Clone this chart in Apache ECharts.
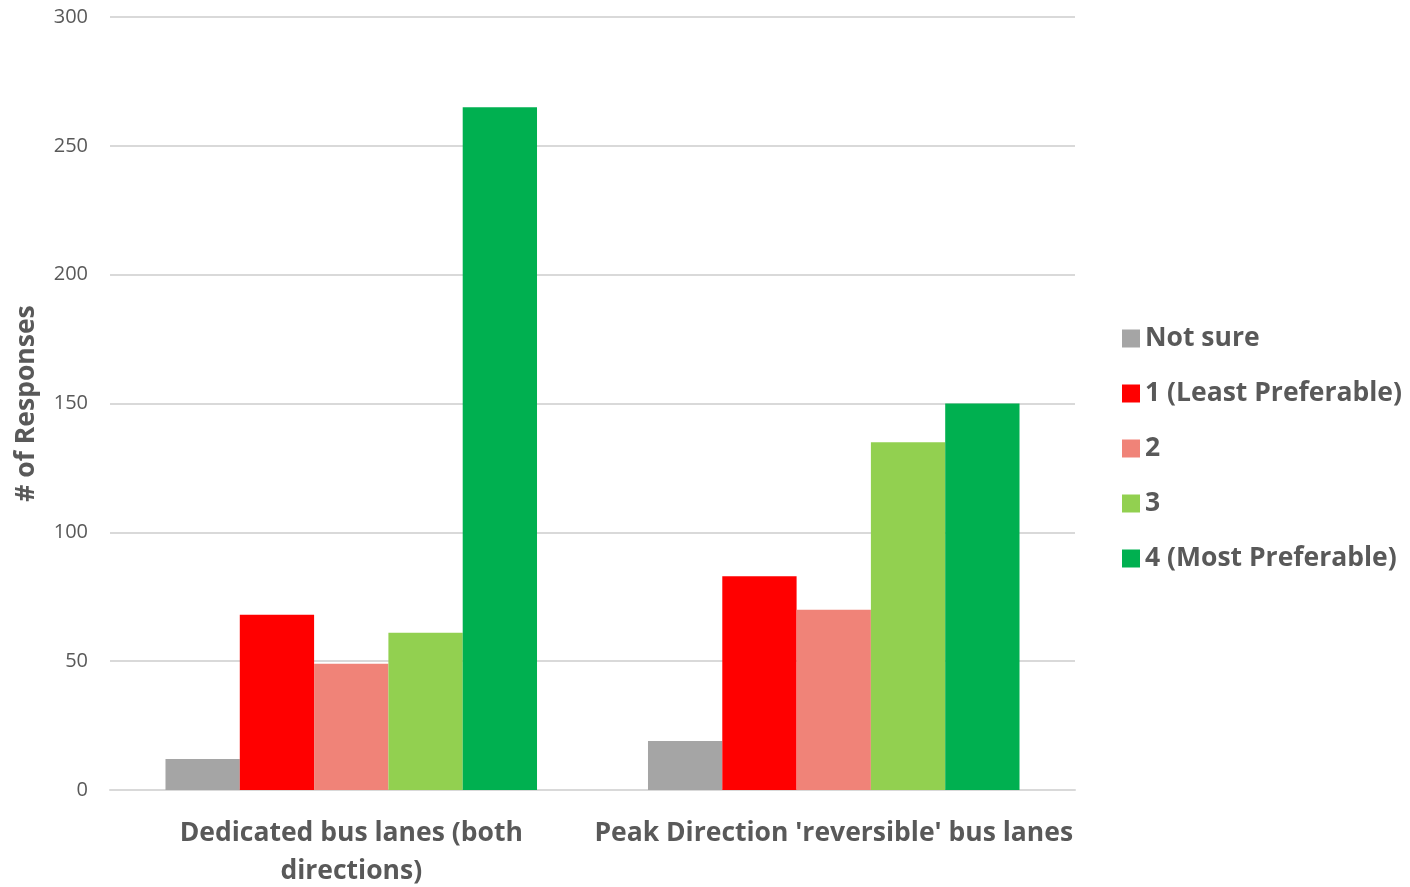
<!DOCTYPE html>
<html>
<head>
<meta charset="utf-8">
<script src="https://cdn.jsdelivr.net/npm/echarts@6/dist/echarts.min.js"></script>
<style>
    html, body { margin: 0; padding: 0; background: #fff; }
    #chart { width: 1410px; height: 887px; }
</style>
</head>
<body>
<div id="chart"></div>
<script>
    var categories = ['Dedicated bus lanes (both\ndirections)', "Peak Direction 'reversible' bus lanes"];
    var seriesNames = ['Not sure', '1 (Least Preferable)', '2', '3', '4 (Most Preferable)'];
    var notSure = [12, 19];
    var least = [68, 83];
    var two = [49, 70];
    var three = [61, 135];
    var most = [265, 150];
    var colors = ['#A5A5A5', '#FF0000', '#F08378', '#92D050', '#00B050'];

    var font = '"Open Sans", Calibri, sans-serif';
    var values = [notSure, least, two, three, most];

    var chart = echarts.init(document.getElementById('chart'));
    chart.setOption({
        animation: false,
        textStyle: { fontFamily: font },
        grid: { left: 110, right: 335, top: 17, bottom: 97, outerBoundsMode: 'none', containLabel: false },
        legend: {
            orient: 'vertical',
            left: 1117,
            top: 320,
            itemWidth: 18,
            itemHeight: 18,
            itemGap: 28,
            icon: 'rect',
            data: seriesNames,
            textStyle: { fontFamily: font, fontSize: 26.5, fontWeight: 'bold', color: '#595959' }
        },
        xAxis: {
            type: 'category',
            data: categories,
            axisTick: { show: false },
            axisLine: { lineStyle: { color: '#D9D9D9', width: 2 } },
            axisLabel: {
                interval: 0,
                margin: 24,
                fontFamily: font,
                fontSize: 26.5,
                fontWeight: 'bold',
                color: '#595959',
                lineHeight: 38
            }
        },
        yAxis: {
            type: 'value',
            min: 0,
            max: 300,
            interval: 50,
            name: '# of Responses',
            nameLocation: 'middle',
            nameGap: 70,
            nameTextStyle: { fontFamily: font, fontSize: 26.5, fontWeight: 'bold', color: '#595959' },
            axisLine: { show: false },
            axisTick: { show: false },
            splitLine: { lineStyle: { color: '#D9D9D9', width: 2 } },
            axisLabel: { margin: 22, fontFamily: font, fontSize: 20, color: '#595959' }
        },
        series: seriesNames.map(function (name, i) {
            return {
                name: name,
                type: 'bar',
                data: values[i],
                barGap: '0%',
                barCategoryGap: '23%',
                itemStyle: { color: colors[i] }
            };
        })
    });
</script>
</body>
</html>
